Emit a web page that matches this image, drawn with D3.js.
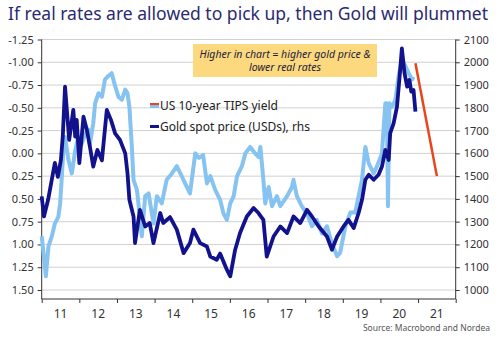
<!DOCTYPE html>
<html>
<head>
<meta charset="utf-8">
<script src="https://cdn.jsdelivr.net/npm/d3@7"></script>
<style>
  body { margin: 0; background: #fff; }
  svg { display: block; font-family: "Noto Sans", "Open Sans", sans-serif; }
</style>
</head>
<body>
<div id="chart"></div>
<script>
// --- data ---
var tipsTicks = [-1.25, -1.00, -0.75, -0.50, -0.25, 0.00, 0.25, 0.50, 0.75, 1.00, 1.25, 1.50];
var goldTicks = [2100, 2000, 1900, 1800, 1700, 1600, 1500, 1400, 1300, 1200, 1100, 1000];
var yearTicks = [2011, 2012, 2013, 2014, 2015, 2016, 2017, 2018, 2019, 2020, 2021, 2022];
var yearLabels = ["11", "12", "13", "14", "15", "16", "17", "18", "19", "20", "21"];

// US 10-year TIPS yield (lhs, inverted)
var tipsDates = [2011.00, 2011.04, 2011.11, 2011.18, 2011.27, 2011.35, 2011.44, 2011.49, 2011.53, 2011.57,
  2011.62, 2011.71, 2011.80, 2011.89, 2011.97, 2012.06, 2012.15, 2012.24, 2012.28, 2012.37,
  2012.42, 2012.51, 2012.60, 2012.68, 2012.77, 2012.86, 2012.95, 2013.04, 2013.13, 2013.22,
  2013.28, 2013.33, 2013.39, 2013.44, 2013.53, 2013.57, 2013.66, 2013.75, 2013.84, 2013.97,
  2014.06, 2014.19, 2014.32, 2014.46, 2014.59, 2014.72, 2014.81, 2014.94, 2015.08, 2015.18,
  2015.29, 2015.39, 2015.48, 2015.61, 2015.74, 2015.83, 2015.92, 2016.01, 2016.10, 2016.19,
  2016.32, 2016.41, 2016.54, 2016.67, 2016.76, 2016.81, 2016.89, 2016.94, 2017.03, 2017.12,
  2017.25, 2017.34, 2017.52, 2017.65, 2017.69, 2017.78, 2017.91, 2018.05, 2018.18, 2018.31,
  2018.45, 2018.58, 2018.71, 2018.85, 2018.93, 2019.07, 2019.20, 2019.33, 2019.42, 2019.51,
  2019.60, 2019.69, 2019.82, 2019.91, 2020.04, 2020.13, 2020.17, 2020.20, 2020.24, 2020.31,
  2020.40, 2020.48, 2020.57, 2020.66, 2020.75, 2020.84, 2020.88];
var tipsValues = [0.91, 1.06, 1.35, 1.02, 0.91, 0.77, 0.70, 0.55, 0.29, 0.00,
  -0.18, 0.07, 0.22, -0.03, -0.18, -0.10, -0.21, -0.26, -0.10, -0.33,
  -0.55, -0.66, -0.62, -0.81, -0.85, -0.88, -0.74, -0.62, -0.59, -0.70,
  -0.66, -0.51, -0.11, 0.29, 0.40, 0.55, 0.91, 0.47, 0.44, 0.77,
  0.47, 0.55, 0.29, 0.22, 0.14, 0.25, 0.33, 0.44, 0.00, 0.05,
  0.02, 0.33, 0.25, 0.40, 0.51, 0.66, 0.73, 0.55, 0.47, 0.25,
  0.14, 0.00, -0.07, 0.00, 0.04, -0.07, 0.29, 0.55, 0.37, 0.58,
  0.47, 0.58, 0.47, 0.37, 0.29, 0.47, 0.58, 0.66, 0.80, 0.73,
  0.88, 0.80, 0.99, 1.13, 1.09, 0.80, 0.65, 0.65, 0.47, 0.29,
  -0.07, 0.11, 0.22, 0.14, 0.00, -0.55, -0.55, 0.58, -0.55, -0.51,
  -0.59, -0.84, -1.03, -0.96, -0.88, -0.81, -0.84];

// Gold spot price, USD (rhs)
var goldDates = [2011.00, 2011.06, 2011.17, 2011.35, 2011.43, 2011.51, 2011.56, 2011.62, 2011.73, 2011.84,
  2011.89, 2011.93, 2012.00, 2012.11, 2012.20, 2012.28, 2012.37, 2012.48, 2012.60, 2012.73,
  2012.84, 2012.95, 2013.08, 2013.22, 2013.28, 2013.33, 2013.44, 2013.48, 2013.61, 2013.75,
  2013.87, 2013.97, 2014.15, 2014.23, 2014.41, 2014.59, 2014.77, 2014.94, 2015.03, 2015.21,
  2015.39, 2015.48, 2015.65, 2015.74, 2015.92, 2016.01, 2016.14, 2016.27, 2016.45, 2016.63,
  2016.76, 2016.89, 2016.98, 2017.16, 2017.34, 2017.52, 2017.69, 2017.87, 2018.05, 2018.18,
  2018.36, 2018.58, 2018.71, 2018.85, 2019.02, 2019.15, 2019.29, 2019.42, 2019.51, 2019.60,
  2019.69, 2019.82, 2019.95, 2020.04, 2020.13, 2020.22, 2020.26, 2020.35, 2020.44, 2020.51,
  2020.57, 2020.64, 2020.71, 2020.77, 2020.82, 2020.88, 2020.93];
var goldValues = [1411, 1323, 1396, 1558, 1497, 1570, 1674, 1893, 1659, 1791,
  1674, 1747, 1557, 1761, 1703, 1630, 1542, 1615, 1570, 1791,
  1747, 1688, 1659, 1600, 1512, 1396, 1323, 1206, 1352, 1279,
  1294, 1206, 1338, 1294, 1320, 1265, 1162, 1206, 1265, 1206,
  1191, 1147, 1133, 1160, 1089, 1060, 1177, 1250, 1323, 1360,
  1338, 1308, 1147, 1235, 1279, 1250, 1323, 1294, 1352, 1323,
  1279, 1235, 1177, 1235, 1279, 1308, 1272, 1338, 1396, 1484,
  1506, 1484, 1506, 1542, 1615, 1571, 1689, 1732, 1805, 1937,
  2061, 1952, 1893, 1922, 1871, 1878, 1783];

// red "plummet" projection, gold (rhs)
var projDates = [2020.93, 2021.50];
var projValues = [1996, 1500];

var boxLines = ["Higher in chart = higher gold price &", "lower real rates"];

function drawChart() {
  var svgWidth = 500, svgHeight = 338;
  var left = 41.7, right = 455.7, top = 39.5, bottom = 290, axisBottom = 299;

  var svg = d3.select("#chart").append("svg")
    .attr("width", svgWidth).attr("height", svgHeight);

  var x = d3.scaleLinear().domain([2011, 2022]).range([left, right]);
  var yL = d3.scaleLinear().domain([-1.25, 1.5]).range([top, bottom]);
  var yR = d3.scaleLinear().domain([2100, 1000]).range([top, bottom]);

  // title
  svg.append("text")
    .attr("x", 8).attr("y", 20)
    .attr("font-size", 18)
    .attr("fill", "#2a2a70")
    .attr("textLength", 480).attr("lengthAdjust", "spacingAndGlyphs")
    .text("If real rates are allowed to pick up, then Gold will plummet");

  // gridlines
  svg.append("g").selectAll("line")
    .data(tipsTicks).enter().append("line")
    .attr("x1", left).attr("x2", right)
    .attr("y1", d => yL(d)).attr("y2", d => yL(d))
    .attr("stroke", "#d0d0d0").attr("stroke-width", 1);

  // left axis
  var gL = svg.append("g").attr("transform", `translate(${left},0)`)
    .call(d3.axisLeft(yL).tickValues(tipsTicks).tickFormat(d => d.toFixed(2)).tickSize(4).tickSizeOuter(0));
  gL.select(".domain").remove();
  gL.selectAll("text").attr("font-size", 11).attr("fill", "#333").attr("dx", -1).style("font-family", "Noto Sans");
  gL.selectAll("line").attr("stroke", "#333");

  // right axis
  var gR = svg.append("g").attr("transform", `translate(${right},0)`)
    .call(d3.axisRight(yR).tickValues(goldTicks).tickFormat(d3.format("d")).tickSize(4).tickSizeOuter(0));
  gR.select(".domain").remove();
  gR.selectAll("text").attr("font-size", 11).attr("fill", "#333").attr("dx", 1).style("font-family", "Noto Sans");
  gR.selectAll("line").attr("stroke", "#333");

  // x axis
  var gX = svg.append("g").attr("transform", `translate(0,${axisBottom})`)
    .call(d3.axisBottom(x).tickValues(yearTicks).tickFormat("").tickSize(4).tickSizeOuter(0));
  gX.select(".domain").remove();
  gX.selectAll("line").attr("stroke", "#333");

  svg.append("g").selectAll("text")
    .data(yearLabels).enter().append("text")
    .attr("x", (d, i) => x(yearTicks[i] + 0.5))
    .attr("y", axisBottom + 19)
    .attr("text-anchor", "middle")
    .attr("font-size", 12).attr("fill", "#333")
    .text(d => d);

  // axis frame lines
  svg.append("line").attr("x1", left).attr("x2", left).attr("y1", top).attr("y2", axisBottom).attr("stroke", "#333");
  svg.append("line").attr("x1", right).attr("x2", right).attr("y1", top).attr("y2", axisBottom).attr("stroke", "#333");
  svg.append("line").attr("x1", left).attr("x2", right).attr("y1", axisBottom).attr("y2", axisBottom).attr("stroke", "#333");

  // series
  var lineL = d3.line().x(d => x(d[0])).y(d => yL(d[1]));
  var lineR = d3.line().x(d => x(d[0])).y(d => yR(d[1]));

  svg.append("path")
    .datum(d3.zip(tipsDates, tipsValues))
    .attr("d", lineL)
    .attr("fill", "none").attr("stroke", "#86c3f0")
    .attr("stroke-width", 4).attr("stroke-linejoin", "round");

  svg.append("path")
    .datum(d3.zip(goldDates, goldValues))
    .attr("d", lineR)
    .attr("fill", "none").attr("stroke", "#12128c")
    .attr("stroke-width", 3.8).attr("stroke-linejoin", "round");

  svg.append("path")
    .datum(d3.zip(projDates, projValues))
    .attr("d", lineR)
    .attr("fill", "none").attr("stroke", "#e8441e")
    .attr("stroke-width", 2.5);

  // yellow note box
  svg.append("rect")
    .attr("x", 193).attr("y", 44).attr("width", 184).attr("height", 33)
    .attr("fill", "#fcd87e");
  svg.append("g").selectAll("text")
    .data(boxLines).enter().append("text")
    .attr("x", 285).attr("y", (d, i) => 58 + i * 13)
    .attr("text-anchor", "middle")
    .attr("font-size", 10.5).attr("font-style", "italic").attr("fill", "#1d1d3a")
    .text(d => d);

  // legend
  var lg = svg.append("g");
  lg.append("rect").attr("x", 150).attr("y", 103).attr("width", 9).attr("height", 2).attr("fill", "#e8441e");
  lg.append("rect").attr("x", 150).attr("y", 105).attr("width", 9).attr("height", 3).attr("fill", "#86c3f0");
  lg.append("text").attr("x", 160).attr("y", 110).attr("font-size", 12).attr("fill", "#222")
    .text("US 10-year TIPS yield");
  lg.append("rect").attr("x", 150).attr("y", 125).attr("width", 9).attr("height", 3).attr("fill", "#12128c");
  lg.append("text").attr("x", 160).attr("y", 131).attr("font-size", 12).attr("fill", "#222")
    .text("Gold spot price (USDs), rhs");

  // source
  svg.append("text")
    .attr("x", 490).attr("y", 331)
    .attr("text-anchor", "end")
    .attr("font-size", 8.5).attr("fill", "#555")
    .text("Source: Macrobond and Nordea");
}

document.addEventListener('DOMContentLoaded', function() {
  drawChart();
});
</script>
</body>
</html>
